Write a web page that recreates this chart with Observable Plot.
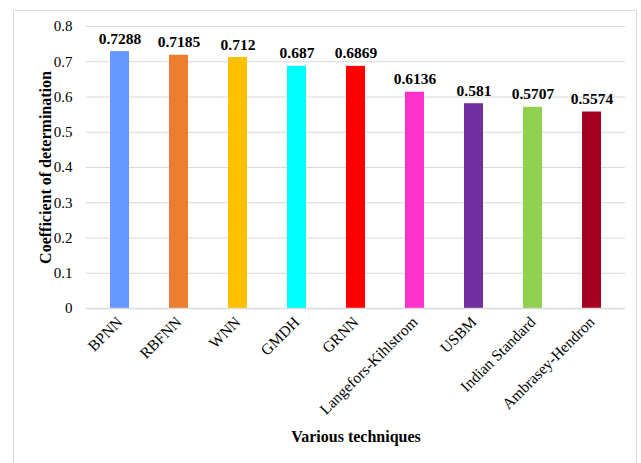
<!DOCTYPE html>
<html>
<head>
<meta charset="utf-8">
<script src="https://cdn.jsdelivr.net/npm/d3@7"></script>
<script src="https://cdn.jsdelivr.net/npm/@observablehq/plot@0.6"></script>
<style>
  body { margin: 0; background: #fff; }
  #wrap { position: relative; width: 641px; height: 463px; overflow: hidden; }
  #frame { position: absolute; left: 13px; top: 10px; width: 624px; height: 470px; border: 1px solid #d9d9d9; box-sizing: border-box; }
  #chart { position: absolute; left: 0; top: 0; }
  #chart svg text { font-family: 'Liberation Serif', 'Times New Roman', serif; }
</style>
</head>
<body>
<div id="wrap"><div id="frame"></div><div id="chart"></div></div>
<script>
const techniques = ["BPNN", "RBFNN", "WNN", "GMDH", "GRNN", "Langefors-Kihlstrom", "USBM", "Indian Standard", "Ambrasey-Hendron"];
const r2 = [0.7288, 0.7185, 0.712, 0.687, 0.6869, 0.6136, 0.581, 0.5707, 0.5574];
const valueLabels = ["0.7288", "0.7185", "0.712", "0.687", "0.6869", "0.6136", "0.581", "0.5707", "0.5574"];
const colors = ["#6699FF", "#ED7D31", "#FFC000", "#00FFFF", "#FF0000", "#FF33CC", "#7030A0", "#92D050", "#A50021"];
const yTicks = [0, 0.1, 0.2, 0.3, 0.4, 0.5, 0.6, 0.7, 0.8];

const data = techniques.map((t, i) => ({technique: t, value: r2[i], label: valueLabels[i], color: colors[i]}));

const font = "'Liberation Serif', 'Times New Roman', serif";

const chart = Plot.plot({
  width: 641,
  height: 463,
  marginLeft: 86,
  marginRight: 16,
  marginTop: 26,
  marginBottom: 155,
  style: {fontFamily: font, fontSize: "15px", color: "#000", background: "transparent"},
  x: {domain: techniques, paddingInner: 0.68, paddingOuter: 0.34},
  y: {domain: [0, 0.8]},
  marks: [
    Plot.gridY(yTicks, {stroke: "#d9d9d9", strokeOpacity: 1, strokeWidth: 1}),
    Plot.barY(data, {x: "technique", y: "value", fill: "color"}),
    Plot.ruleY([0], {stroke: "#d9d9d9", strokeWidth: 1.3}),
    Plot.text(data, {x: "technique", y: "value", text: "label", dy: -8, lineAnchor: "bottom", fontWeight: "bold", fontSize: 15.5, fontFamily: font}),
    Plot.axisY(yTicks, {tickSize: 0, tickPadding: 14, tickFormat: d => String(d), label: null, fontSize: 15, fontFamily: font}),
    Plot.axisX({tickSize: 0, tickPadding: 11, tickRotate: -45, label: null, fontSize: 15.5, fontFamily: font}),
    Plot.text(["Coefficient of determination"], {frameAnchor: "left", textAnchor: "middle", dx: -41, rotate: -90, fontWeight: "bold", fontSize: 16, fontFamily: font}),
    Plot.text(["Various techniques"], {frameAnchor: "bottom", dy: 133, fontWeight: "bold", fontSize: 16, fontFamily: font})
  ]
});
document.getElementById("chart").appendChild(chart);
</script>
</body>
</html>
